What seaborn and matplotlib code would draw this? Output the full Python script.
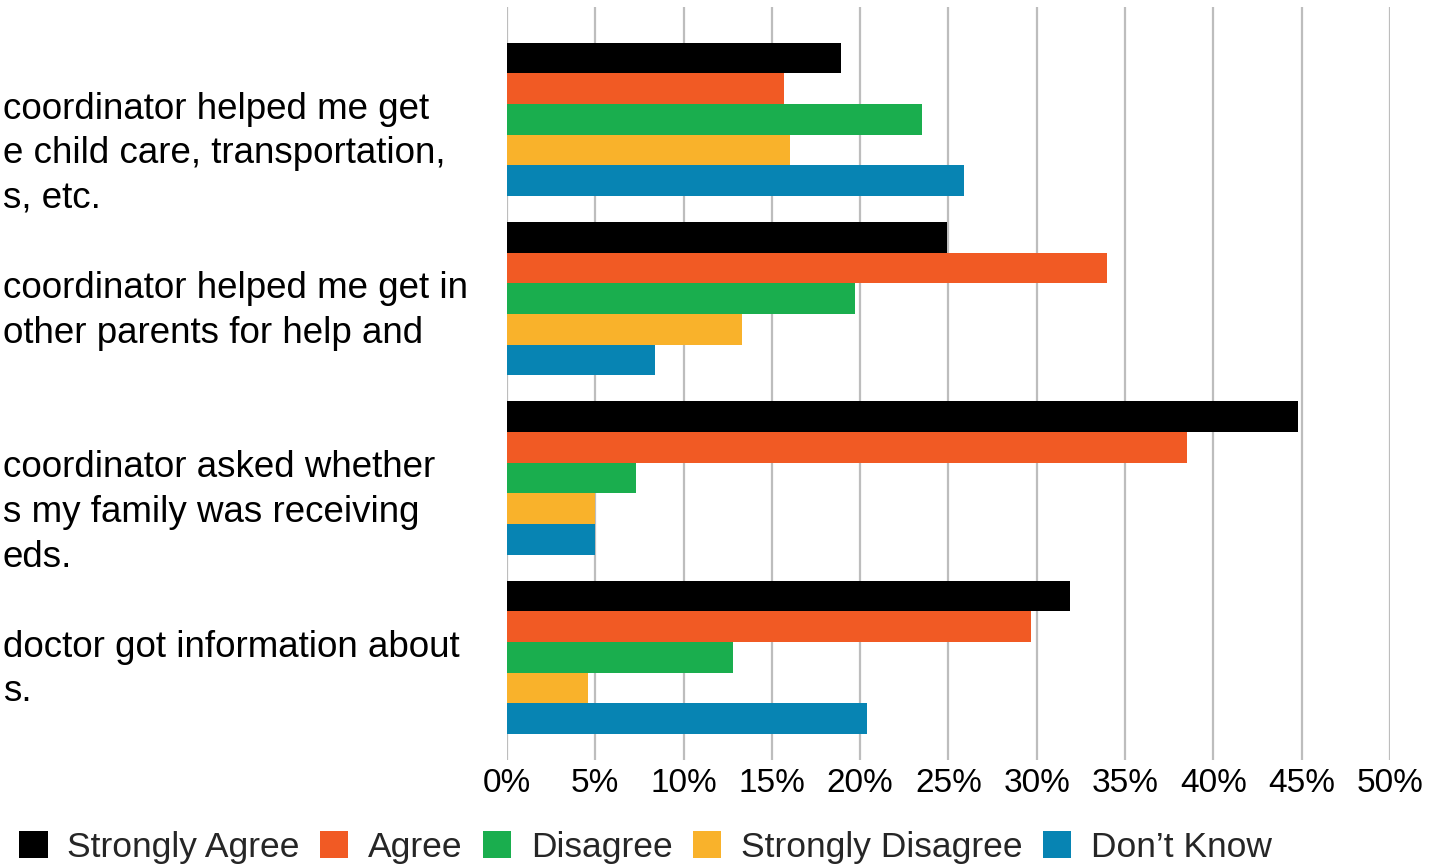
import matplotlib

matplotlib.use("Agg")

import matplotlib.pyplot as plt
from matplotlib.patches import Patch
from matplotlib.ticker import FuncFormatter, MultipleLocator
from matplotlib.transforms import blended_transform_factory, offset_copy
import pandas as pd
import seaborn as sns


# visible (clipped) question text, one entry per group
QUESTIONS = [
    "coordinator helped me get\ne child care, transportation,\ns, etc.",
    "coordinator helped me get in\nother parents for help and",
    "coordinator asked whether\ns my family was receiving\neds.",
    "doctor got information about\ns.",
]
ANSWERS = ["Strongly Agree", "Agree", "Disagree", "Strongly Disagree", "Don\u2019t Know"]

STRONGLY_AGREE = [18.9, 24.9, 44.8, 31.9]
AGREE = [15.7, 34.0, 38.5, 29.7]
DISAGREE = [23.5, 19.7, 7.3, 12.8]
STRONGLY_DISAGREE = [16.0, 13.3, 5.0, 4.6]
DONT_KNOW = [25.9, 8.4, 5.0, 20.4]

COLORS = ["#000000", "#F15A24", "#1AAE4E", "#F9B22B", "#0784B3"]
FONT = ["Liberation Sans", "DejaVu Sans"]


def build_frame() -> pd.DataFrame:
    rows = []
    for answer, vals in zip(
        ANSWERS, [STRONGLY_AGREE, AGREE, DISAGREE, STRONGLY_DISAGREE, DONT_KNOW]
    ):
        for q, v in zip(QUESTIONS, vals):
            rows.append({"question": q, "answer": answer, "pct": v})
    return pd.DataFrame(rows)


def main() -> None:
    sns.set_theme(style="white")
    plt.rcParams["font.family"] = FONT

    df = build_frame()
    fig = plt.figure(figsize=(14.42, 8.64), dpi=100)
    ax = fig.add_axes([0.3516, 0.1204, 0.6123, 0.8715])

    sns.barplot(
        data=df,
        y="question",
        x="pct",
        hue="answer",
        order=QUESTIONS,
        hue_order=ANSWERS,
        palette=COLORS,
        orient="h",
        width=0.855,
        linewidth=0,
        saturation=1,
        legend=False,
        ax=ax,
        zorder=3,
    )

    ax.set_xlim(0, 50)
    ax.set_ylim(3.572, -0.627)
    ax.xaxis.set_major_locator(MultipleLocator(5))
    ax.xaxis.set_major_formatter(FuncFormatter(lambda v, _: f"{v:.0f}%"))
    ax.grid(axis="x", color="#BDBDBD", linewidth=1.6, zorder=0)
    ax.set_axisbelow(True)
    for s in ax.spines.values():
        s.set_visible(False)
    ax.tick_params(axis="x", length=9, width=1.6, color="#BDBDBD", pad=-3,
                   labelsize=24, labelcolor="black")
    ax.tick_params(axis="y", left=False, labelleft=False)
    ax.set_xlabel("")
    ax.set_ylabel("")

    # left-aligned question text, cut off at the figure edge
    trans = blended_transform_factory(fig.transFigure, ax.transData)
    for i, q in enumerate(QUESTIONS):
        fig.text(0.002, i, q, transform=offset_copy(trans, fig=fig, y=20, units="points"),
                 ha="left", va="top", fontsize=26.5, linespacing=1.36, color="black")

    handles = [Patch(facecolor=c, edgecolor="none", label=a) for a, c in zip(ANSWERS, COLORS)]
    fig.legend(
        handles=handles,
        loc="lower left",
        bbox_to_anchor=(0.0035, -0.016),
        ncol=5,
        frameon=False,
        fontsize=25.5,
        handlelength=0.8,
        handleheight=0.8,
        handletextpad=0.55,
        columnspacing=0.58,
        borderaxespad=0,
    )

    fig.savefig("out.png", dpi=100)
    plt.close(fig)


if __name__ == "__main__":
    main()
